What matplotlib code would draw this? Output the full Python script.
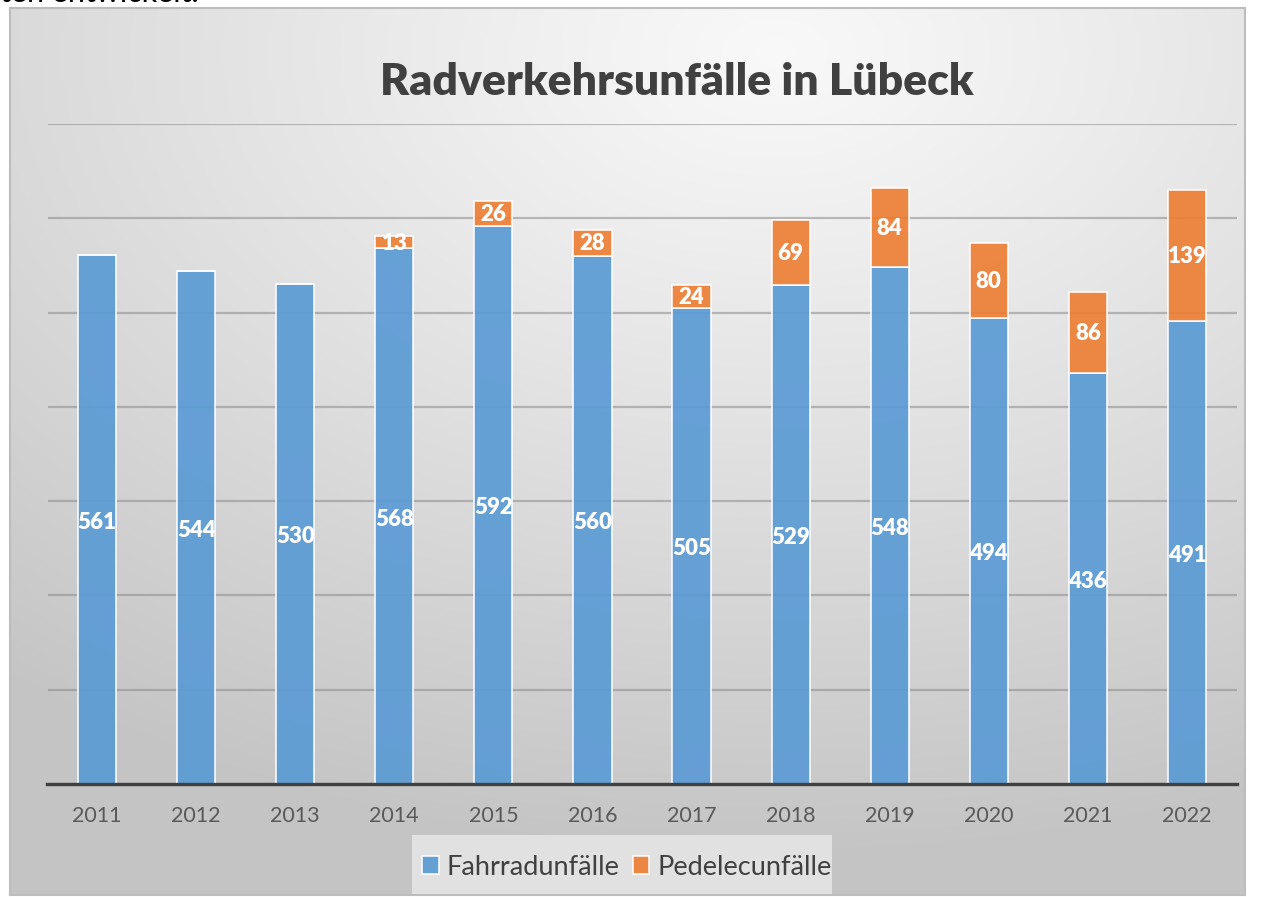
import numpy as np
import matplotlib
matplotlib.use('Agg')
from matplotlib import pyplot as plt
from matplotlib.patches import Rectangle

# data
years = ['2011', '2012', '2013', '2014', '2015', '2016',
         '2017', '2018', '2019', '2020', '2021', '2022']
fahrrad = [561, 544, 530, 568, 592, 560, 505, 529, 548, 494, 436, 491]
pedelec = [0, 0, 0, 13, 26, 28, 24, 69, 84, 80, 86, 139]

W, H = 1263, 897
plt.rcParams['font.family'] = ['Lato', 'DejaVu Sans']
fig = plt.figure(figsize=(W / 100, H / 100), dpi=100)
fig.patch.set_facecolor('white')

# cut-off text from the page above the chart
fig.text(0.0, 1 - 2 / H, 'ten entwickelt.', fontsize=22, color='black',
         va='baseline', ha='left')

# chart area background with radial gradient
fx0, fy0, fx1, fy1 = 10, 8, 1245, 895
bg = fig.add_axes([fx0 / W, 1 - fy1 / H, (fx1 - fx0) / W, (fy1 - fy0) / H])
gx, gy = np.meshgrid(np.linspace(0, 1, 400), np.linspace(0, 1, 300))
d = np.sqrt(((gx - 0.62) * 1.0) ** 2 + ((gy - 0.05) * 1.1) ** 2)
d = np.clip(d / 1.0, 0, 1)
c0, c1 = 0.975, 0.77
img = c0 + (c1 - c0) * d ** 1.1
bg.imshow(np.dstack([img, img, img]), aspect='auto', extent=(0, 1, 1, 0))
bg.set_xlim(0, 1)
bg.set_ylim(1, 0)
bg.set_xticks([])
bg.set_yticks([])
for s in bg.spines.values():
    s.set_color('#bdbdbd')
    s.set_linewidth(1.5)

# main axes
x_left, x_right, y_top, y_base = 47.5, 1236.5, 124, 784
ax = fig.add_axes([x_left / W, 1 - y_base / H, (x_right - x_left) / W,
                   (y_base - y_top) / H])
ax.set_facecolor('none')
x = np.arange(len(years))
ax.set_xlim(-0.5, len(years) - 0.5)
ax.set_ylim(0, 700)
ax.set_yticks(np.arange(0, 701, 100))
ax.yaxis.grid(True, color='#8a8a8a', linewidth=1.6, alpha=0.55)
ax.set_axisbelow(True)
for side in ['left', 'right', 'top']:
    ax.spines[side].set_visible(False)
ax.spines['bottom'].set_color('#404040')
ax.spines['bottom'].set_linewidth(2.4)
ax.spines['bottom'].set_zorder(5)
ax.tick_params(axis='y', left=False, labelleft=False)
ax.tick_params(axis='x', bottom=False, pad=12, labelsize=15.5,
               labelcolor='#595959')
ax.set_xticks(x)
ax.set_xticklabels(years)

bw = 0.385
b1 = ax.bar(x, fahrrad, bw, color='#5B9BD5', alpha=0.92,
            edgecolor=(1, 1, 1, 0.6), linewidth=1.2, label='Fahrradunfälle')
b2 = ax.bar(x, pedelec, bw, bottom=fahrrad, color='#ED7D31', alpha=0.9,
            edgecolor=(1, 1, 1, 0.6), linewidth=1.2, label='Pedelecunfälle')

for i in range(len(years)):
    ax.text(x[i], fahrrad[i] / 2 - 3, str(fahrrad[i]), ha='center',
            va='center', color='white', fontsize=16, fontweight='heavy')
    if pedelec[i] > 0:
        t = ax.text(x[i], fahrrad[i] + pedelec[i] / 2 - 1, str(pedelec[i]),
                    ha='center', va='center', color='white', fontsize=16,
                    fontweight='heavy')
        t.set_clip_path(b2[i])

# title
fig.text(677 / W, 1 - 82 / H, 'Radverkehrsunfälle in Lübeck', ha='center',
         va='center', fontsize=32, fontweight='heavy', color='#404040')

# legend
fig.patches.append(Rectangle((412 / W, 1 - 894 / H), (832 - 412) / W,
                             (894 - 835) / H, transform=fig.transFigure,
                             facecolor='#e1e1e1', edgecolor='none', zorder=1))
leg = fig.legend(handles=[b1, b2], loc='center', ncol=2,
                 bbox_to_anchor=(627 / W, 1 - 867 / H), frameon=False,
                 fontsize=19.5, handlelength=0.6, handleheight=0.6,
                 handletextpad=0.3, columnspacing=0.5, borderpad=0,
                 borderaxespad=0)
for txt in leg.get_texts():
    txt.set_color('#404040')

fig.savefig('out.png', dpi=100)
